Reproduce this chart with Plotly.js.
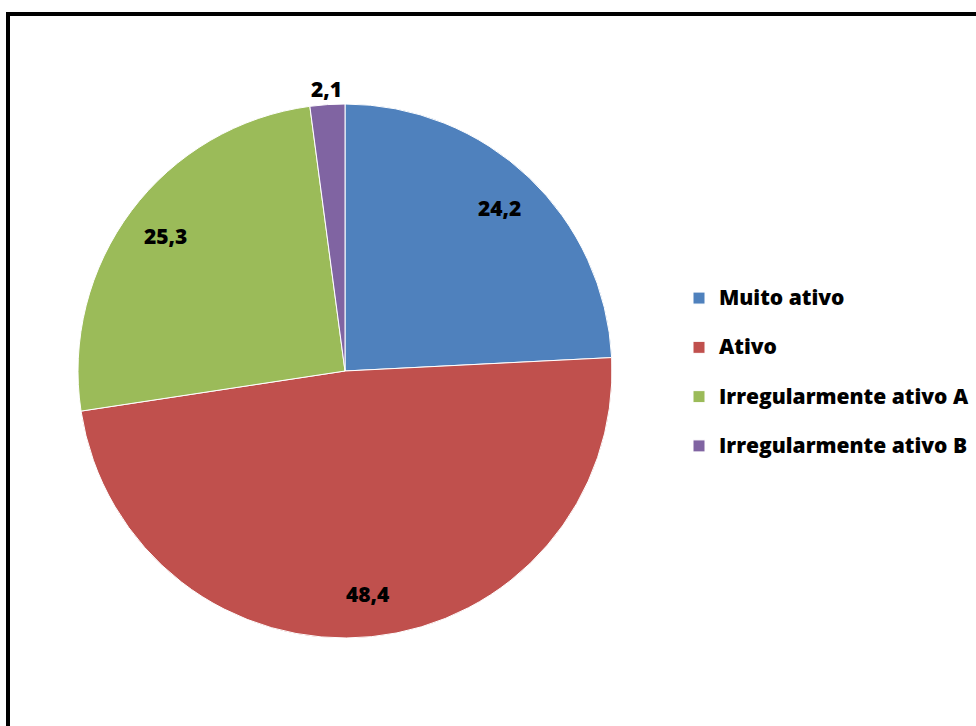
<!DOCTYPE html>
<html>
<head>
<meta charset="utf-8">
<script src="https://cdn.plot.ly/plotly-3.0.1.min.js"></script>
<style>
html,body{margin:0;padding:0;background:#fff;}
#chart{width:976px;height:726px;}
</style>
</head>
<body>
<div id="chart"></div>
<script>
const categories = ["Muito ativo", "Ativo", "Irregularmente ativo A", "Irregularmente ativo B"];
const values = [24.2, 48.4, 25.3, 2.1];
const colors = ["#4F81BD", "#C0504D", "#9BBB59", "#8064A2"];

const W = 976, H = 726;
const cx = 345, cy = 371, R = 267;
const FONT = "'Open Sans', Lato, sans-serif";

// legend labels: visible name plus an empty second line to widen the row spacing
const legendLabels = categories.map(c => '<span style="font-size:21px">' + c + '</span><br> ');

const trace = {
  type: "pie",
  labels: legendLabels,
  values: values,
  sort: false,
  direction: "clockwise",
  rotation: 0,
  marker: {colors: colors, line: {color: "#ffffff", width: 1}},
  textinfo: "none",
  hoverinfo: "value",
  domain: {x: [(cx - R) / W, (cx + R) / W], y: [(H - cy - R) / H, (H - cy + R) / H]},
  automargin: false
};

// data labels placed at slice mid-angles computed from the values
const total = values.reduce((a, b) => a + b, 0);
let cum = 0;
const annotations = values.map((v, i) => {
  const mid = (cum + v / 2) / total;
  cum += v;
  const ang = mid * 2 * Math.PI;
  const small = v / total < 0.05;
  const rr = small ? R * 1.06 : R * 0.84;
  const px = cx + rr * Math.sin(ang);
  const py = cy - rr * Math.cos(ang);
  return {
    xref: "paper", yref: "paper",
    x: px / W, y: (H - py) / H,
    xanchor: "center", yanchor: "middle",
    showarrow: false,
    text: v.toFixed(1).replace(".", ","),
    font: {family: FONT, size: 21, color: "#000000", weight: 800}
  };
});

const layout = {
  width: W, height: H,
  margin: {l: 0, r: 0, t: 0, b: 0},
  separators: ",.",
  paper_bgcolor: "#ffffff",
  showlegend: true,
  annotations: annotations,
  legend: {
    x: 679 / W, y: (H - 280) / H, xanchor: "left", yanchor: "top",
    valign: "top",
    font: {family: FONT, size: 17.8, color: "#000000", weight: 800},
    itemwidth: 30,
    bgcolor: "rgba(0,0,0,0)"
  },
  shapes: [
    {type: "line", xref: "paper", yref: "paper", x0: 8 / W, x1: 8 / W, y0: (H - 12) / H, y1: -0.05, line: {color: "#000", width: 4}},
    {type: "line", xref: "paper", yref: "paper", x0: 6 / W, x1: 1.05, y0: (H - 14) / H, y1: (H - 14) / H, line: {color: "#000", width: 4}}
  ]
};

Plotly.newPlot("chart", [trace], layout, {displayModeBar: false, staticPlot: true});
</script>
</body>
</html>
